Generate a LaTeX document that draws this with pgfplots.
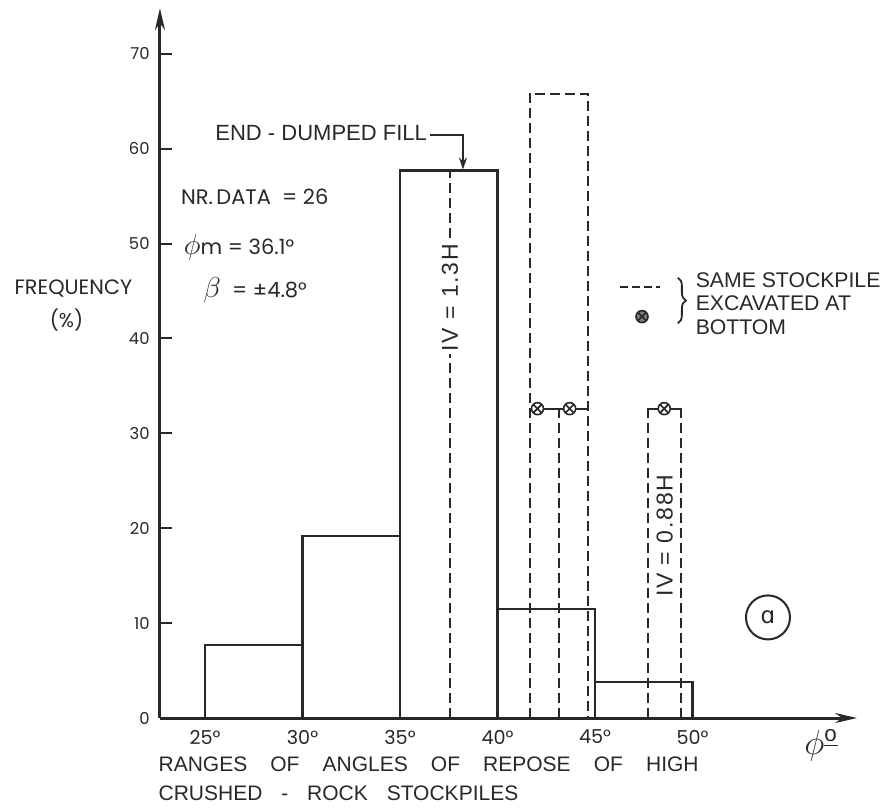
\documentclass[border=0pt]{standalone}
\usepackage{pgfplots}
\pgfplotsset{compat=1.18}
\usepackage{fontspec}
\setmainfont{Liberation Sans}
\newfontfamily\geo{Poppins}
\newfontfamily\dejavu{DejaVu Sans}
\newfontfamily\spaced{Liberation Sans}[LetterSpace=8]
\usetikzlibrary{arrows.meta,decorations.pathreplacing}
\definecolor{ink}{RGB}{40,40,40}
\begin{document}
\begin{tikzpicture}
\begin{axis}[
  x=9.75pt, y=4.745pt,
  xmin=22.69, xmax=58.44, ymin=0, ymax=74.8,
  axis lines=left,
  axis line style={draw=ink, line width=1.5pt, -{Stealth[length=11pt,width=5pt]}},
  clip=false,
  xtick={25,30,35,40,45,50},
  xticklabels={25°,30°,35°,40°,45°,50°},
  ytick={0,10,20,30,40,50,60,70},
  yticklabels={0,10,20,30,40,50,60,70},
  x tick style={draw=none},
  y tick style={draw=ink, line width=1pt},
  tick align=inside,
  major tick length=6pt,
  xticklabel style={font=\geo\fontsize{9.6}{11}\selectfont, text=ink, anchor=center, yshift=-9.5pt},
  yticklabel style={font=\geo\fontsize{8.2}{9}\selectfont, text=ink, anchor=east, inner sep=0pt, xshift=-5pt},
]
% histogram bars
\addplot[ybar interval, draw=ink, line width=1.25pt, fill=white]
  coordinates {(25,7.7)(30,19.2)(35,57.7)(40,11.5)(45,3.8)(50,3.8)};
% IV = 1.3H dashed line
\addplot[draw=ink, line width=1pt, dash pattern=on 5pt off 2.5pt]
  coordinates {(37.56,0)(37.56,57.7)};
% dashed tall bar (same stockpile)
\addplot[draw=ink, line width=1pt, dash pattern=on 5pt off 2.5pt]
  coordinates {(41.65,0)(41.65,65.8)(44.65,65.8)(44.65,0)};
\addplot[draw=ink, line width=1pt, dash pattern=on 5pt off 2.5pt]
  coordinates {(43.15,0)(43.15,32.6)};
\addplot[draw=ink, line width=1pt]
  coordinates {(41.65,32.6)(44.65,32.6)};
% dashed small bar 47.7-49.4
\addplot[draw=ink, line width=1pt, dash pattern=on 5pt off 2.5pt]
  coordinates {(47.72,0)(47.72,32.2)};
\addplot[draw=ink, line width=1pt, dash pattern=on 5pt off 2.5pt]
  coordinates {(49.41,0)(49.41,32.2)};
\addplot[draw=ink, line width=1pt]
  coordinates {(47.72,31.6)(47.72,32.6)(49.41,32.6)(49.41,31.6)};
% excavated at bottom marks
\addplot[only marks, mark=otimes*, mark size=3pt, draw=ink, line width=0.8pt, mark options={fill=white}]
  coordinates {(42.05,32.6)(43.7,32.6)(48.55,32.6)};
% legend
\addplot[draw=ink, line width=1pt, dash pattern=on 4pt off 2pt]
  coordinates {(46.28,45.4)(48.33,45.4)};
\addplot[only marks, mark=otimes*, mark size=3pt, draw=ink, line width=0.8pt, mark options={fill=ink!60}]
  coordinates {(47.41,42.3)};
\draw[ink, line width=0.9pt, decorate, decoration={brace, amplitude=4pt}]
  (axis cs:49.25,46.4) -- (axis cs:49.25,41.6);
\node[anchor=west, align=left, text=ink, inner sep=0pt, font=\fontsize{10.6}{11.75}\selectfont]
  at (axis cs:50.15,43.7) {SAME STOCKPILE\\EXCAVATED AT\\BOTTOM};
% end-dumped fill annotation
\node[anchor=east, text=ink, inner sep=0pt, font=\fontsize{11}{12}\selectfont]
  at (axis cs:36.4,61.6) {END - DUMPED FILL};
\addplot[draw=ink, line width=0.9pt, -{Stealth[length=6pt,width=4pt]}]
  coordinates {(36.55,61.4)(38.23,61.4)(38.23,57.8)};
% IV labels
\node[rotate=90, fill=white, inner sep=1.5pt, text=ink, font=\spaced\fontsize{11.5}{12}\selectfont]
  at (axis cs:37.56,44.3) {IV = 1.3H};
\node[rotate=90, inner sep=0pt, text=ink, font=\spaced\fontsize{11.5}{12}\selectfont]
  at (axis cs:48.57,19.2) {IV = 0.88H};
% statistics
\node[anchor=west, text=ink, inner sep=0pt, font=\geo\fontsize{10.5}{12}\selectfont]
  at (axis cs:23.75,54.9) {NR.\,DATA\ \ = 26};
\node[anchor=west, text=ink, inner sep=0pt, font=\geo\fontsize{10.5}{12}\selectfont]
  at (axis cs:23.9,49.6) {{\fontsize{15}{15}\selectfont$\phi$}m = 36.1°};
\node[anchor=west, text=ink, inner sep=0pt, font=\geo\fontsize{10.5}{12}\selectfont]
  at (axis cs:24.9,45.1) {{\fontsize{15}{15}\selectfont$\beta$}\ \ = ±4.8°};
% y label
\node[text=ink, inner sep=0pt, font=\geo\fontsize{10.4}{11}\selectfont]
  at (axis cs:18.25,45.3) {FREQUENCY};
\node[text=ink, inner sep=0pt, font=\geo\fontsize{10}{11}\selectfont]
  at (axis cs:17.9,41.9) {(\%)};
% x label
\node[anchor=west, text=ink, inner sep=0pt, font=\fontsize{10.5}{12}\selectfont]
  at (axis cs:22.6,-4.85) {RANGES\hspace{1.1em}OF\hspace{1.1em}ANGLES\hspace{1.1em}OF\hspace{1.1em}REPOSE\hspace{1.1em}OF\hspace{1.1em}HIGH};
\node[anchor=west, text=ink, inner sep=0pt, font=\fontsize{10.5}{12}\selectfont]
  at (axis cs:22.6,-7.9) {CRUSHED\hspace{0.9em}-\hspace{0.9em}ROCK\hspace{0.9em}STOCKPILES};
\node[text=ink, inner sep=0pt, font=\fontsize{16}{18}\selectfont]
  at (axis cs:56.6,-2.9) {$\phi^{\underline{\scriptstyle\mathrm{o}}}$};
% panel label
\node[circle, draw=ink, line width=1pt, minimum size=22pt, inner sep=0pt, text=ink, font=\dejavu\fontsize{11.5}{12}\selectfont]
  at (axis cs:53.87,10.6) {ɑ};
% bounding box corners (890 x 809 px frame)
\coordinate (BL) at (axis cs:14.487,-9.589);
\coordinate (TR) at (axis cs:60.128,75.66);
\end{axis}
\pgfresetboundingbox
\path (BL) rectangle (TR);
\end{tikzpicture}
\end{document}
